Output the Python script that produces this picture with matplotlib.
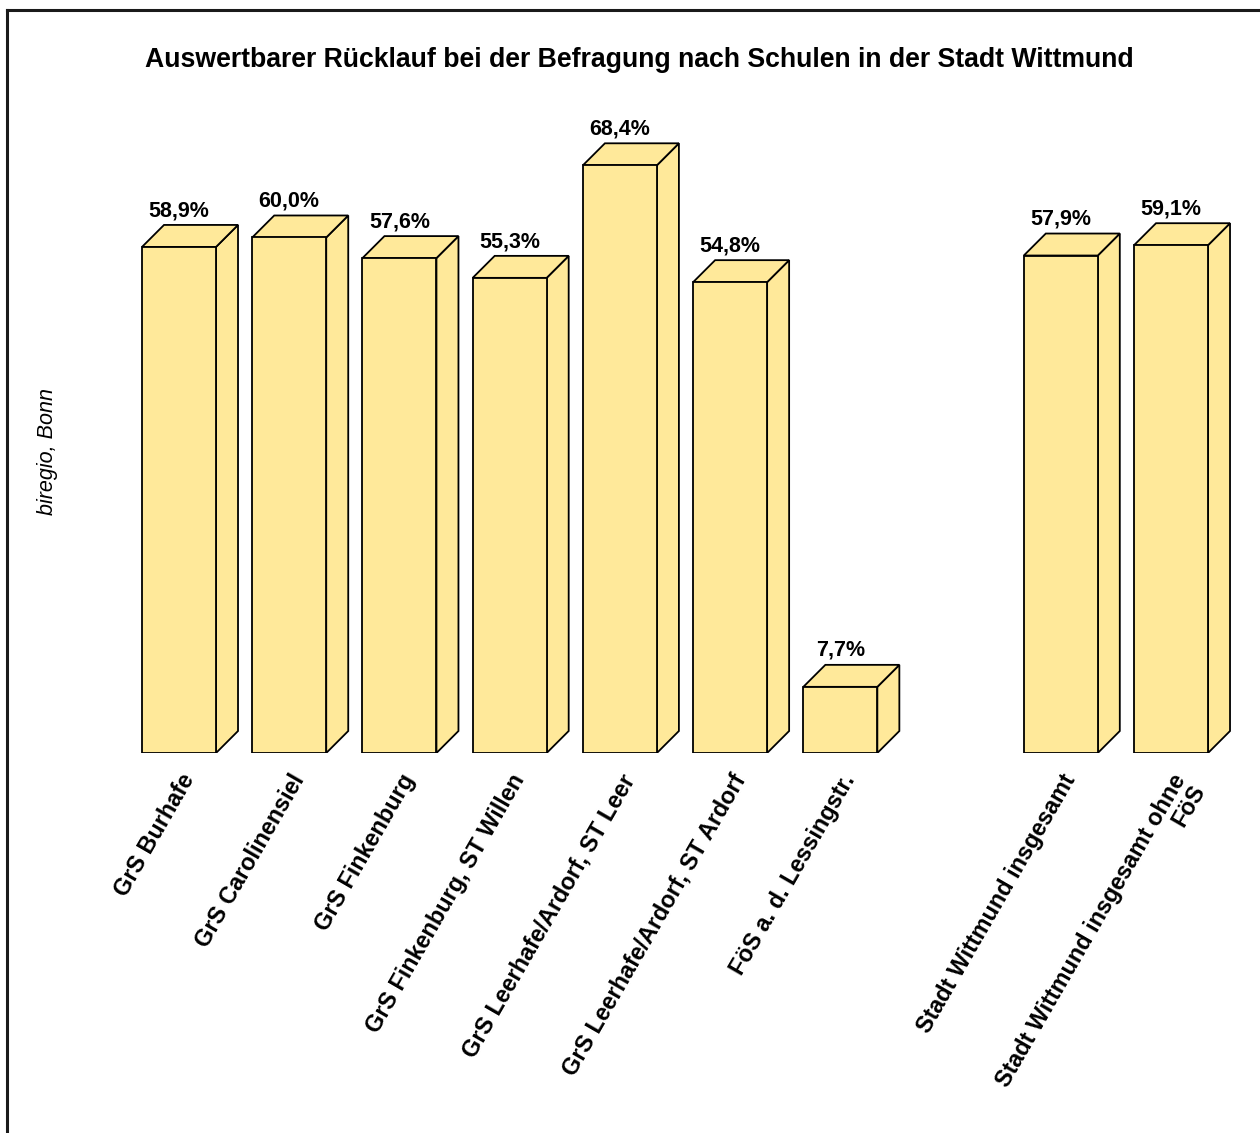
import matplotlib
matplotlib.use("Agg")
import matplotlib.pyplot as plt
from matplotlib.patches import Polygon, Rectangle
from matplotlib.lines import Line2D

plt.rcParams['font.family'] = ['Liberation Sans', 'DejaVu Sans']

# data
schools = ['GrS Burhafe', 'GrS Carolinensiel', 'GrS Finkenburg',
           'GrS Finkenburg, ST Willen', 'GrS Leerhafe/Ardorf, ST Leer',
           'GrS Leerhafe/Ardorf, ST Ardorf', 'FöS a. d. Lessingstr.',
           '', 'Stadt Wittmund insgesamt', 'Stadt Wittmund insgesamt ohne\nFöS']
values = [58.9, 60.0, 57.6, 55.3, 68.4, 54.8, 7.7, None, 57.9, 59.1]
value_labels = ['58,9%', '60,0%', '57,6%', '55,3%', '68,4%', '54,8%', '7,7%',
                '', '57,9%', '59,1%']

face = '#FFE99A'
W, H = 1260, 1133
fig = plt.figure(figsize=(W / 100, H / 100), dpi=100)

# outer frame (runs off the right and bottom of the picture)
fig.add_artist(Line2D([7 / W, 7 / W], [0, 1 - 10 / H], transform=fig.transFigure,
                      color='#1a1a1a', lw=2.2))
fig.add_artist(Line2D([7 / W, 1], [1 - 10 / H, 1 - 10 / H], transform=fig.transFigure,
                      color='#1a1a1a', lw=2.2))

# axes so that one slot = ~110 px and 1% = ~8.6 px
ax = fig.add_axes([24.7 / W, (H - 753) / H, (1259.2 - 24.7) / W, 653 / H])
ax.set_xlim(-1.4, 9.8)
ax.set_ylim(0, 76)
ax.axis('off')

bw = 74 / 110.22      # front width in slot units
dx = 22 / 110.22      # depth, x
dy = 22 / 8.596       # depth, y

for i, v in enumerate(values):
    if v is None:
        continue
    x0 = i - bw / 2
    x1 = i + bw / 2
    # side
    ax.add_patch(Polygon([(x1, 0), (x1 + dx, dy), (x1 + dx, v + dy), (x1, v)],
                         closed=True, fc=face, ec='black', lw=1.3, joinstyle='miter'))
    # top
    ax.add_patch(Polygon([(x0, v), (x0 + dx, v + dy), (x1 + dx, v + dy), (x1, v)],
                         closed=True, fc=face, ec='black', lw=1.3, joinstyle='miter'))
    # front
    ax.add_patch(Rectangle((x0, 0), bw, v, fc=face, ec='black', lw=1.3,
                           joinstyle='miter'))
    ax.text(i, v + dy + 0.45, value_labels[i], ha='center', va='bottom',
            fontsize=15.5, fontweight='bold')

for i, name in enumerate(schools):
    if not name:
        continue
    ax.text(i + 0.0, -2.0, name, rotation=60, rotation_mode='anchor',
            ha='right', va='top', fontsize=16.8, fontweight='bold',
            multialignment='right', linespacing=0.95)

fig.text(639 / W, 1 - 60 / H, 'Auswertbarer Rücklauf bei der Befragung nach Schulen in der Stadt Wittmund',
         ha='center', va='center', fontsize=19.2, fontweight='bold')
fig.text(48 / W, 1 - 452 / H, 'biregio, Bonn', rotation=90, ha='center', va='center',
         fontsize=15.5, style='italic')

fig.savefig('out.png', dpi=100)
